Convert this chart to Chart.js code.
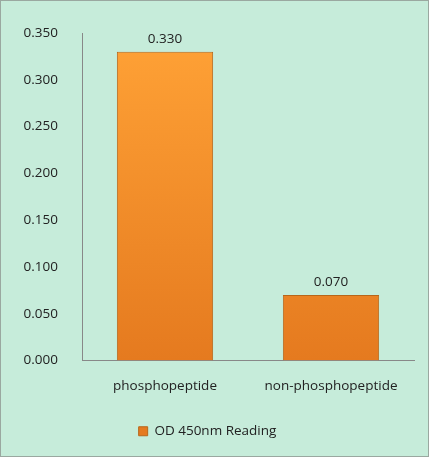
<!DOCTYPE html>
<html><head><meta charset="utf-8">
<script src="https://cdn.jsdelivr.net/npm/chart.js@4"></script>
<style>html,body{margin:0;padding:0;background:#c6ecda;}#w{position:absolute;left:0;top:0;width:427px;height:455px;border:1px solid #9aa8a0;}</style>
</head><body><div id="w"><canvas id="c"></canvas></div>
<script>
const categories = ["phosphopeptide", "non-phosphopeptide"];
const seriesName = "OD 450nm Reading";
const values = [0.330, 0.070];
const yTicks = [0, 0.05, 0.1, 0.15, 0.2, 0.25, 0.3, 0.35];

const labelPlugin = {
  id: 'lbl',
  afterDatasetsDraw(chart) {
    const ctx = chart.ctx;
    const meta = chart.getDatasetMeta(0);
    ctx.save();
    ctx.font = '13.5px "Open Sans", sans-serif';
    ctx.fillStyle = '#222';
    ctx.textAlign = 'center';
    ctx.textBaseline = 'bottom';
    meta.data.forEach((b, i) => ctx.fillText(values[i].toFixed(3), b.x, b.y - 6));
    ctx.restore();
  }
};
function grad(ctx) {
  const ch = ctx.chart; const a = ch.chartArea;
  if (!a) return '#f7962b';
  const g = ch.ctx.createLinearGradient(0, a.top, 0, a.bottom);
  g.addColorStop(0, '#ffa236'); g.addColorStop(1, '#e57a1f');
  return g;
}
const F = { family: '"Open Sans", sans-serif', size: 13.5 };
new Chart(document.getElementById('c'), {
  type: 'bar',
  data: { labels: categories, datasets: [{ label: seriesName, data: values,
    backgroundColor: grad, borderColor: '#b8661a', borderWidth: 1,
    categoryPercentage: 0.58, barPercentage: 1 }] },
  options: {
    responsive: true, maintainAspectRatio: false, animation: false,
    layout: { padding: { left: 0, right: 14, top: 5, bottom: 8 } },
    plugins: {
      tooltip: { enabled: false },
      legend: { position: 'bottom', labels: { boxWidth: 9, boxHeight: 9, padding: 12, color: '#222', font: F } }
    },
    scales: {
      y: { min: 0, max: 0.35, afterBuildTicks: s => { s.ticks = yTicks.map(v => ({ value: v })); },
        afterFit: s => { s.width = 81; },
        grid: { display: false, drawTicks: false }, border: { color: '#888' },
        ticks: { padding: 24, color: '#222', font: F, callback: v => v.toFixed(3) } },
      x: { grid: { display: false, drawTicks: false }, border: { color: '#888' },
        afterFit: s => { s.height = 52; },
        ticks: { padding: 18, color: '#222', font: F } }
    }
  },
  plugins: [labelPlugin]
});
</script></body></html>
